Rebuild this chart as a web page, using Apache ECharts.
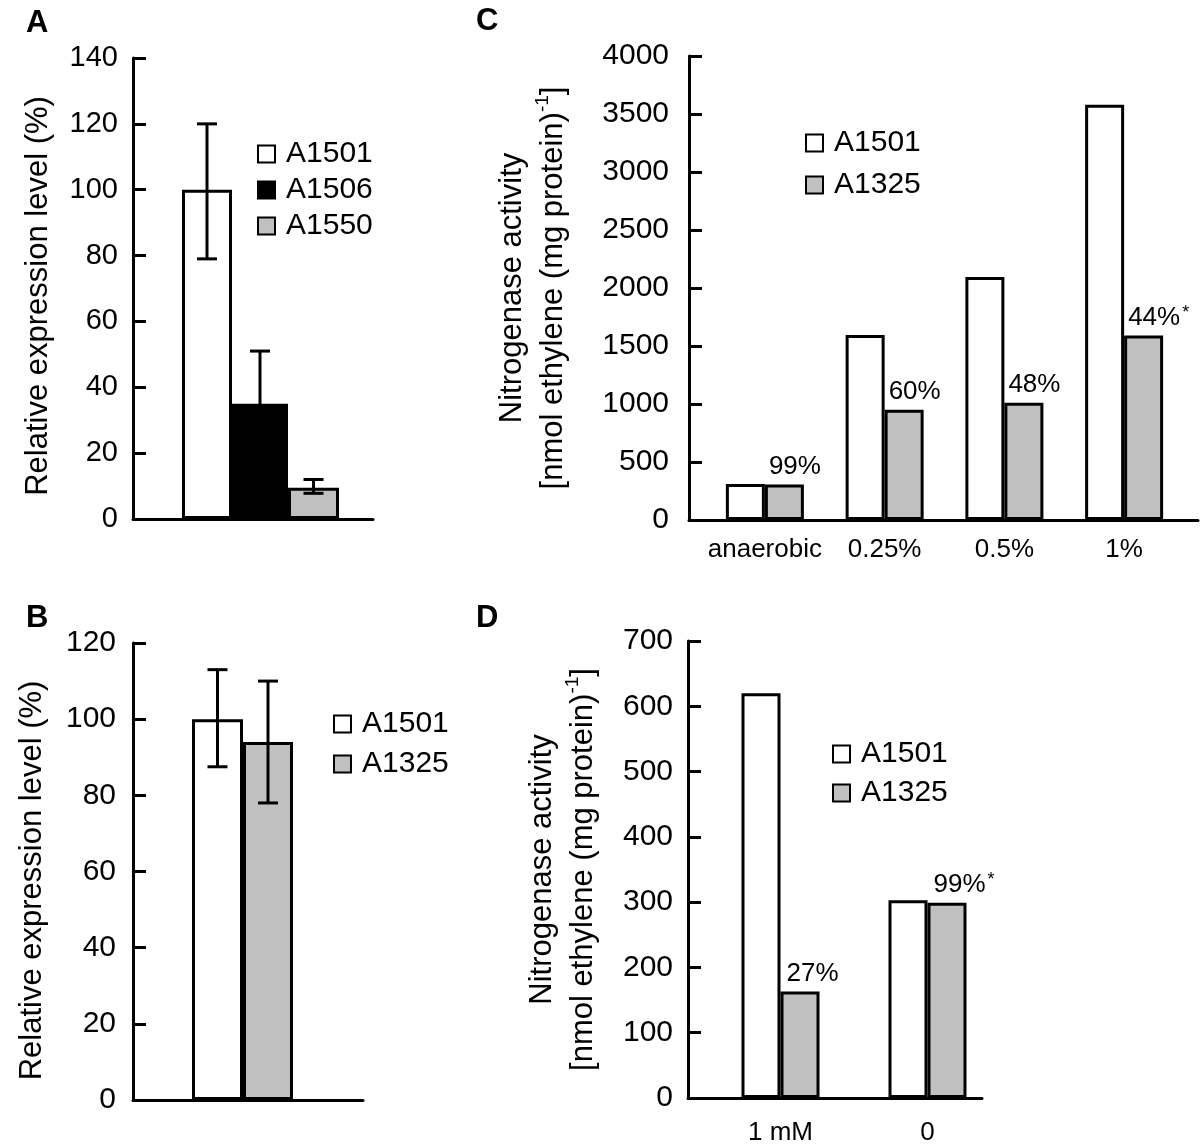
<!DOCTYPE html>
<html><head><meta charset="utf-8">
<script src="https://cdn.jsdelivr.net/npm/echarts@6/dist/echarts.min.js"></script>
<style>html,body{margin:0;padding:0;background:#fff}#c{width:1200px;height:1147px}</style>
</head><body><div id="c"></div>
<script>
// ---------- DATA ----------
// Panel A: relative expression level (%)
const seriesA = ['A1501', 'A1506', 'A1550'];
const valuesA = [100, 35, 9.5];
const errLowA = [79, 19, 7.8];
const errHighA = [120, 51, 12];
// Panel B: relative expression level (%)
const seriesB = ['A1501', 'A1325'];
const valuesB = [100, 94];
const errLowB = [87.5, 78];
const errHighB = [113, 110];
// Panel C: nitrogenase activity vs O2
const categoriesC = ['anaerobic', '0.25%', '0.5%', '1%'];
const a1501C = [311, 1594, 2095, 3580];
const a1325C = [306, 950, 1010, 1590];
const pctC = ['99%', '60%', '48%', '44%*'];
// Panel D: nitrogenase activity vs nitrate
const categoriesD = ['1 mM', '0'];
const a1501D = [620, 303];
const a1325D = [163, 299];
const pctD = ['27%', '99%*'];
// Axis ranges
const rangeA = { min: 0, max: 140, interval: 20 };
const rangeB = { min: 0, max: 120, interval: 20 };
const rangeC = { min: 0, max: 4000, interval: 500 };
const rangeD = { min: 0, max: 700, interval: 100 };

// ---------- STYLE ----------
const FONT = "'Liberation Sans', Arial, Helvetica, sans-serif";
const BLACK = '#000';
const GRAY = '#c0c0c0';
const fillA = ['#ffffff', '#000000', GRAY];
const fillB = ['#ffffff', GRAY];
const widthsA = [50, 56, 51];
const widthsB = [51, 50];
const barWC = 39, barWD = 39;

function offsets(widths) {
  const total = widths.reduce((a, b) => a + b, 0);
  let acc = -total / 2;
  return widths.map(w => { const o = acc + w / 2; acc += w; return o; });
}
const offA = offsets(widthsA), offB = offsets(widthsB);

const chart = echarts.init(document.getElementById('c'), null, { renderer: 'canvas' });

function frameX(grid) {
  return { gridIndex: grid, type: 'value', min: 0, max: 1,
    axisLine: { show: true, onZero: false, lineStyle: { color: BLACK, width: 3 } },
    axisTick: { show: false }, axisLabel: { show: false }, splitLine: { show: false } };
}
function frameY(grid, range, fontSize, margin, name, gap, nameStyle) {
  return Object.assign({ gridIndex: grid, type: 'value' }, range, {
    axisLine: { show: true, lineStyle: { color: BLACK, width: 3 } },
    axisTick: { show: true, inside: true, length: 13, lineStyle: { color: BLACK, width: 3 } },
    axisLabel: { fontSize: fontSize, margin: margin, color: BLACK, fontFamily: FONT, formatter: v => String(v) },
    splitLine: { show: false },
    name: name, nameLocation: 'middle', nameGap: gap, nameRotate: 90,
    nameTextStyle: nameStyle
  });
}
function barX(grid, data, show, margin) {
  return { gridIndex: grid, type: 'category', data: data,
    axisLine: { show: false }, axisTick: { show: false },
    axisLabel: { show: show, interval: 0, fontSize: 26, margin: margin, color: BLACK, fontFamily: FONT },
    splitLine: { show: false } };
}
function barY(grid, range) {
  return Object.assign({ gridIndex: grid, type: 'value' }, range, {
    show: false, axisLine: { show: false }, axisTick: { show: false },
    axisLabel: { show: false }, splitLine: { show: false } });
}
function errSeries(ax, low, high, offs) {
  return {
    type: 'custom', xAxisIndex: ax, yAxisIndex: ax, z: 5, silent: true,
    data: low.map((lo, k) => [0, lo, high[k], k]),
    renderItem: function (params, api) {
      const i = api.value(0);
      const lo = api.coord([i, api.value(1)]);
      const hi = api.coord([i, api.value(2)]);
      const x = lo[0] + offs[api.value(3)];
      const cap = 10;
      const st = { stroke: BLACK, lineWidth: 3 };
      return { type: 'group', children: [
        { type: 'line', shape: { x1: x, y1: lo[1], x2: x, y2: hi[1] }, style: st },
        { type: 'line', shape: { x1: x - cap, y1: lo[1], x2: x + cap, y2: lo[1] }, style: st },
        { type: 'line', shape: { x1: x - cap, y1: hi[1], x2: x + cap, y2: hi[1] }, style: st }
      ] };
    }
  };
}
function pctLabel(arr, offX) {
  return {
    show: true, position: 'top', align: 'left', distance: 4, offset: [offX, 0],
    formatter: p => {
      const t = arr[p.dataIndex];
      return t.endsWith('*') ? '{n|' + t.slice(0, -1) + '}{s|*}' : '{n|' + t + '}';
    },
    rich: {
      n: { fontSize: 26, fontFamily: FONT, color: BLACK, lineHeight: 28 },
      s: { fontSize: 18, fontFamily: FONT, color: BLACK, lineHeight: 14, verticalAlign: 'top', padding: [0, 0, 0, 2] }
    }
  };
}
const barBorder = { borderColor: BLACK, borderWidth: 3 };

const nameSimple = (padRight) => ({ fontSize: 31, fontFamily: FONT, color: BLACK, lineHeight: 34, padding: [0, padRight, 0, 0] });
const nameRich = {
  fontSize: 31, fontFamily: FONT, color: BLACK, lineHeight: 41,
  rich: {
    a: { fontSize: 31, fontFamily: FONT, color: BLACK, lineHeight: 41 },
    s: { fontSize: 19, fontFamily: FONT, color: BLACK, lineHeight: 22, verticalAlign: 'top' }
  }
};
const nitroName = '{a|Nitrogenase activity}\n{a|[nmol ethylene (mg protein)}{s|-1}{a|]}';

function legendCfg(data, left, top, gap) {
  return { data: data, orient: 'vertical', left: left, top: top, icon: 'rect',
    itemWidth: 17, itemHeight: 17, itemGap: gap, selectedMode: false,
    itemStyle: { borderColor: BLACK, borderWidth: 2 },
    textStyle: { fontSize: 30, lineHeight: 30, fontFamily: FONT, color: BLACK, padding: [0, 0, 0, 6] } };
}
const letterStyle = { fontSize: 31, fontWeight: 'bold', fontFamily: FONT, color: BLACK };

const option = {
  animation: false,
  backgroundColor: '#fff',
  title: [
    { text: 'A', left: 21, top: 3, textStyle: letterStyle },
    { text: 'B', left: 21, top: 598, textStyle: letterStyle },
    { text: 'C', left: 471, top: 1, textStyle: letterStyle },
    { text: 'D', left: 471, top: 598, textStyle: letterStyle }
  ],
  legend: [
    legendCfg(seriesA, 252, 134, 6),
    legendCfg(seriesB, 328, 704, 10),
    legendCfg(['A1501', 'A1325'], 800, 123, 12),
    legendCfg(['A1501', 'A1325'], 827, 734, 9)
  ],
  grid: [
    { left: 133, top: 58, width: 240, height: 461 },
    { left: 148, top: 58, width: 225, height: 461 },
    { left: 133, top: 643, width: 230, height: 457 },
    { left: 142.5, top: 643, width: 200, height: 457 },
    { left: 689, top: 56, width: 509, height: 464 },
    { left: 705, top: 56, width: 479, height: 464 },
    { left: 688, top: 641, width: 294, height: 457 },
    { left: 707, top: 641, width: 294, height: 457 }
  ],
  xAxis: [
    frameX(0), barX(1, [''], false, 0),
    frameX(2), barX(3, [''], false, 0),
    frameX(4), barX(5, categoriesC, true, 17),
    frameX(6), barX(7, categoriesD, true, 22)
  ],
  yAxis: [
    frameY(0, rangeA, 29, 15, 'Relative expression level (%)', 78, nameSimple(15)), barY(1, rangeA),
    frameY(2, rangeB, 30, 17, 'Relative expression level (%)', 84, nameSimple(18)), barY(3, rangeB),
    frameY(4, rangeC, 30, 20, nitroName, 115, nameRich), barY(5, rangeC),
    frameY(6, rangeD, 30, 15, nitroName, 84, nameRich), barY(7, rangeD)
  ],
  series: [
    // Panel A
    ...seriesA.map((n, k) => ({ name: n, type: 'bar', xAxisIndex: 1, yAxisIndex: 1,
      data: [valuesA[k]], barWidth: widthsA[k], barGap: '0%',
      itemStyle: Object.assign({ color: fillA[k] }, barBorder) })),
    errSeries(1, errLowA, errHighA, offA),
    // Panel B
    ...seriesB.map((n, k) => ({ name: n, type: 'bar', xAxisIndex: 3, yAxisIndex: 3,
      data: [valuesB[k]], barWidth: widthsB[k], barGap: '0%',
      itemStyle: Object.assign({ color: fillB[k] }, barBorder) })),
    errSeries(3, errLowB, errHighB, offB),
    // Panel C
    { name: 'A1501', type: 'bar', xAxisIndex: 5, yAxisIndex: 5, data: a1501C, barWidth: barWC, barGap: '0%',
      itemStyle: Object.assign({ color: '#fff' }, barBorder) },
    { name: 'A1325', type: 'bar', xAxisIndex: 5, yAxisIndex: 5, data: a1325C, barWidth: barWC, barGap: '0%',
      itemStyle: Object.assign({ color: GRAY }, barBorder), label: pctLabel(pctC, -barWC / 2 + 4) },
    // Panel D
    { name: 'A1501', type: 'bar', xAxisIndex: 7, yAxisIndex: 7, data: a1501D, barWidth: barWD, barGap: '0%',
      itemStyle: Object.assign({ color: '#fff' }, barBorder) },
    { name: 'A1325', type: 'bar', xAxisIndex: 7, yAxisIndex: 7, data: a1325D, barWidth: barWD, barGap: '0%',
      itemStyle: Object.assign({ color: GRAY }, barBorder), label: pctLabel(pctD, -barWD / 2 + 6) }
  ]
};
chart.setOption(option);
</script>
</body></html>
